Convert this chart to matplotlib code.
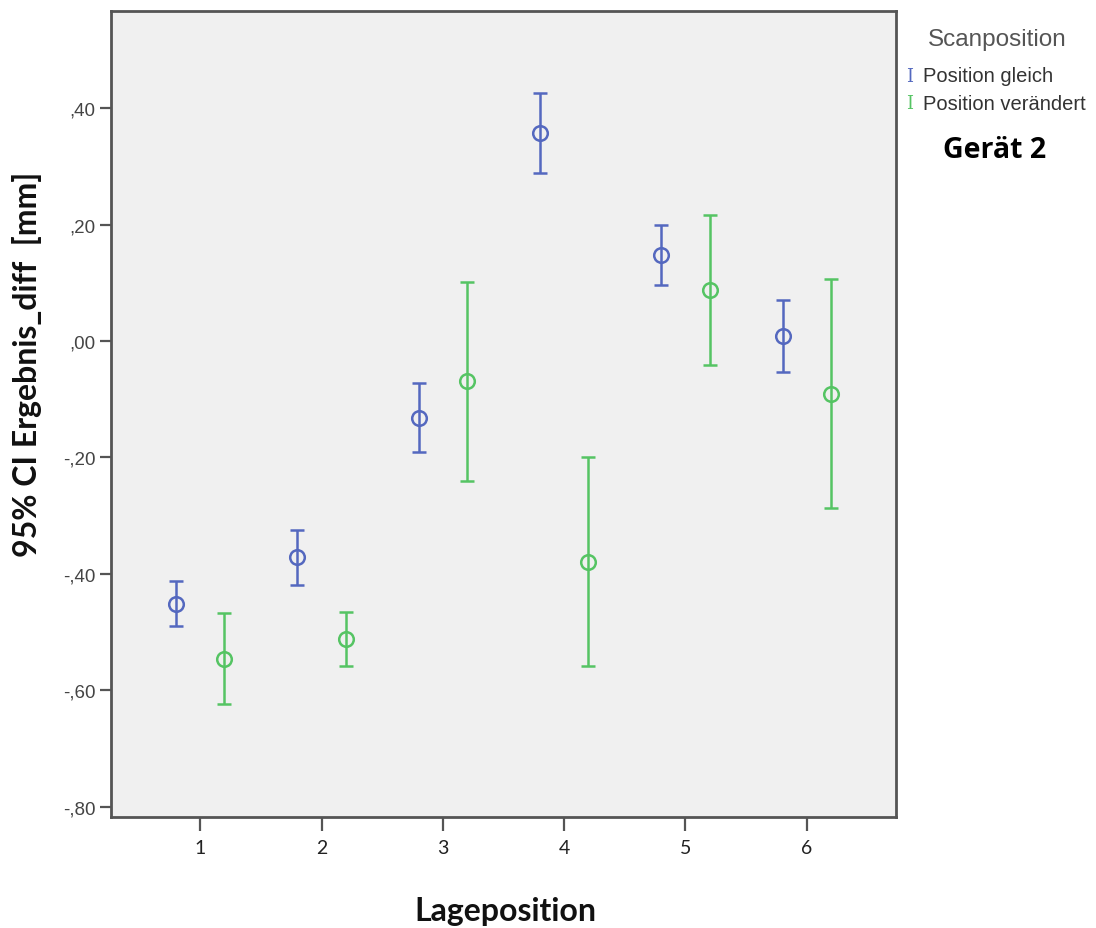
import matplotlib
matplotlib.use("Agg")
import matplotlib.pyplot as plt
import numpy as np

# Data
positions = [1, 2, 3, 4, 5, 6]
tick_labels = ["1", "2", "3", "4", "5", "6"]
yticks = [0.40, 0.20, 0.00, -0.20, -0.40, -0.60, -0.80]
ytick_labels = [",40", ",20", ",00", "-,20", "-,40", "-,60", "-,80"]

gleich_mean = [-0.452, -0.371, -0.132, 0.357, 0.148, 0.008]
gleich_low = [-0.490, -0.419, -0.190, 0.288, 0.097, -0.054]
gleich_high = [-0.412, -0.324, -0.073, 0.426, 0.199, 0.071]

veraendert_mean = [-0.546, -0.512, -0.069, -0.380, 0.087, -0.091]
veraendert_low = [-0.623, -0.558, -0.240, -0.559, -0.042, -0.287]
veraendert_high = [-0.467, -0.466, 0.102, -0.200, 0.217, 0.107]

series_names = ["Position gleich", "Position verändert"]
blue = "#5468bf"
green = "#55c463"

fig = plt.figure(figsize=(10.96, 9.29), dpi=100)
ax = fig.add_axes([111/1096, 1-818/929, (896-111)/1096, (818-12)/929])
ax.set_facecolor("#f0f0f0")

def draw(xs, m, lo, hi, color):
    m = np.array(m); lo = np.array(lo); hi = np.array(hi)
    ax.errorbar(xs, m, yerr=[m - lo, hi - m], fmt="o", mfc="none", mec=color,
                mew=1.8, ms=10.5, ecolor=color, elinewidth=1.8, capsize=4.7,
                capthick=1.8, color=color, zorder=3)

x = np.array(positions, dtype=float)
draw(x - 0.2, gleich_mean, gleich_low, gleich_high, blue)
draw(x + 0.2, veraendert_mean, veraendert_low, veraendert_high, green)

ax.set_xlim(0.265, 6.735)
ax.set_ylim(-0.818, 0.567)

ax.set_yticks(yticks)
ax.set_yticklabels(ytick_labels, family="Liberation Sans", fontsize=13.5, color="#444444")
ax.set_xticks(positions)
ax.set_xticklabels(tick_labels, family="Lato", fontsize=14, color="#222222")
ax.tick_params(axis="y", direction="out", length=8, width=1.6, color="#555555", pad=3)
ax.tick_params(axis="x", direction="out", length=10, width=1.6, color="#555555", pad=6)
for s in ax.spines.values():
    s.set_color("#555555")
    s.set_linewidth(2)

fig.text(27/1096, 1-364/929, "95% CI Ergebnis_diff  [mm]", rotation=90, ha="center",
         va="center", family="Lato", fontweight="bold", fontsize=23, color="#111111")
fig.text(505/1096, 1-912/929, "Lageposition", ha="center", va="center",
         family="Lato", fontweight="bold", fontsize=23, color="#111111")

# Legend
fig.text(997/1096, 1-40/929, "Scanposition", ha="center", va="center",
         family="Liberation Sans", fontsize=17.5, color="#555555")
legend_y = [77, 104]
for name, col, yy in zip(series_names, [blue, green], legend_y):
    fig.text(910/1096, 1-yy/929, "I", ha="center", va="center",
             family="DejaVu Serif", fontsize=13, color=col)
    fig.text(923/1096, 1-yy/929, name, ha="left", va="center",
             family="Liberation Sans", fontsize=14.5, color="#333333")
fig.text(995/1096, 1-150/929, "Gerät 2", ha="center", va="center",
         family="Open Sans", fontweight="bold", fontsize=20.5, color="#000000")

fig.savefig("out.png", dpi=100)
